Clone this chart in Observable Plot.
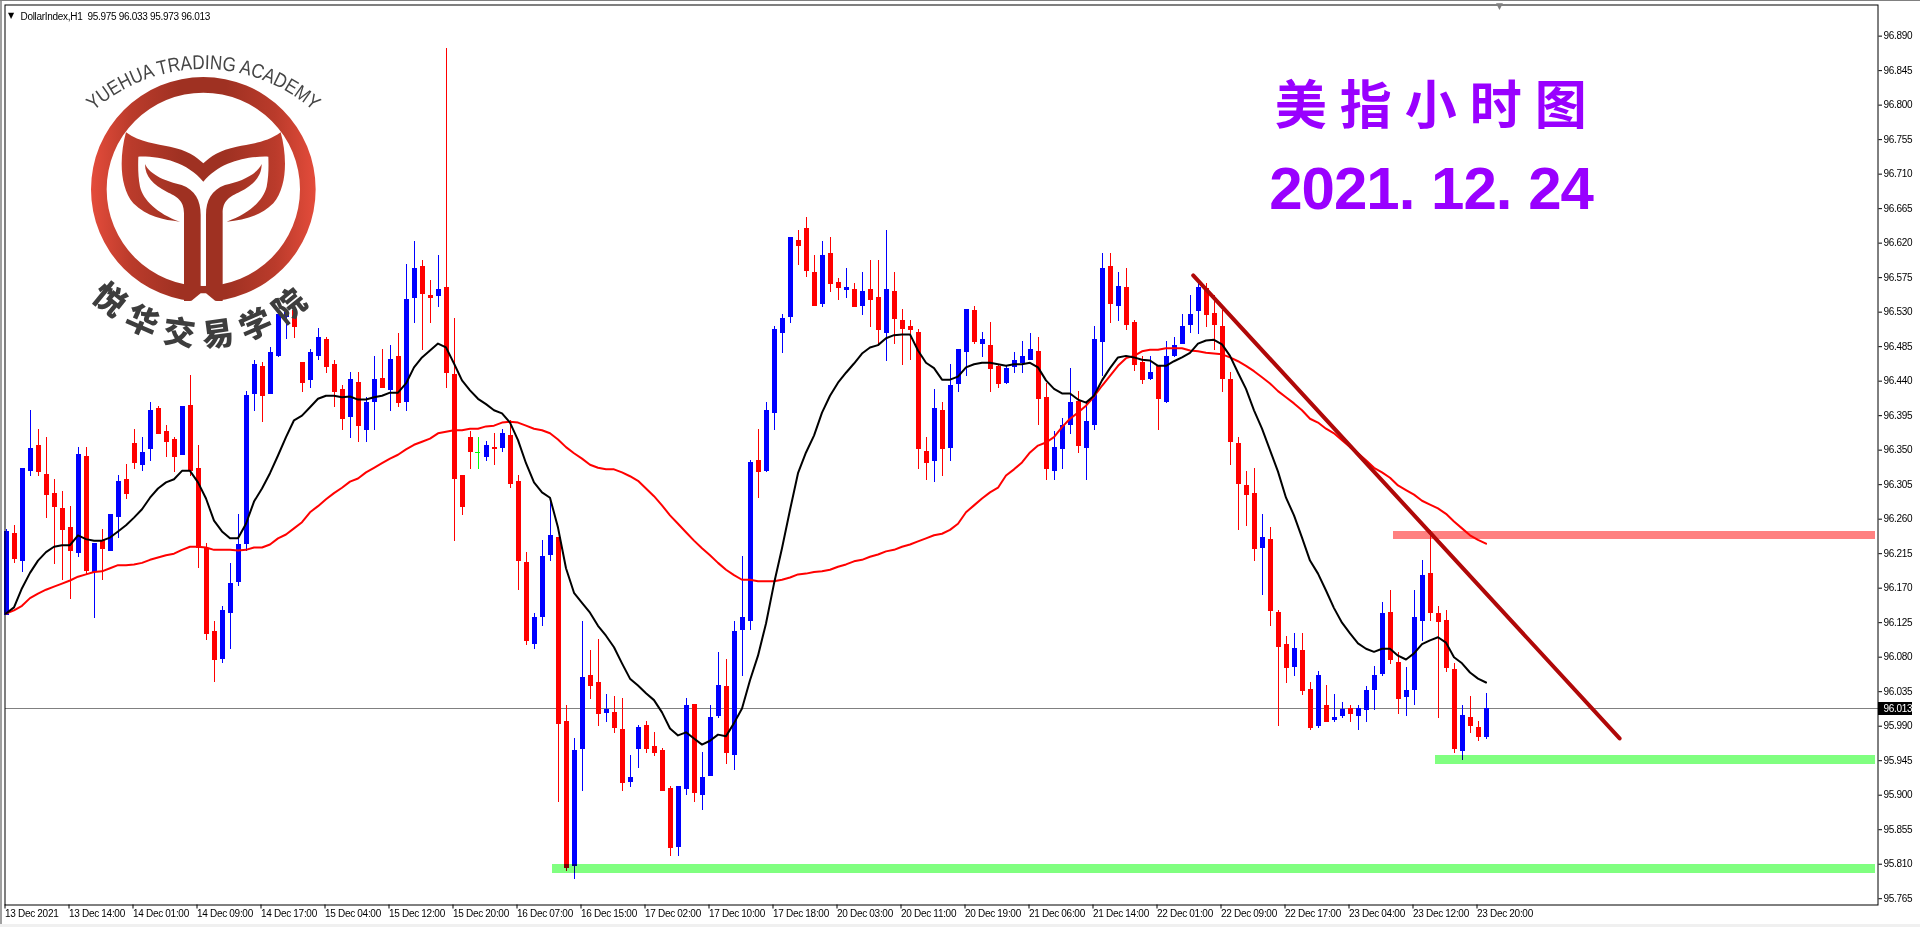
<!DOCTYPE html>
<html lang="zh">
<head>
<meta charset="utf-8">
<title>DollarIndex H1</title>
<script src="https://cdn.jsdelivr.net/npm/d3@7"></script>
<script src="https://cdn.jsdelivr.net/npm/@observablehq/plot@0.6"></script>
<style>
html,body{margin:0;padding:0;background:#fff;overflow:hidden}
#wrap{position:relative;width:1920px;height:927px;overflow:hidden}
#chart svg{display:block}
.chrome{position:absolute}
.crisp{shape-rendering:crispEdges}
.zone{mix-blend-mode:multiply;shape-rendering:crispEdges}
.axl text{letter-spacing:-.3px}
.head1 text{letter-spacing:13px}
.head2 text{letter-spacing:-1px}
#logo{position:absolute;left:0;top:0;pointer-events:none}
</style>
</head>
<body>
<div id="wrap">
<div id="chart"></div>
<div class="chrome" style="left:0;top:0;width:2px;height:927px;background:#a0a0a0"></div>
<div class="chrome" style="left:0;top:0;width:1920px;height:1px;background:#808080"></div>
<div class="chrome" style="left:0;top:924px;width:1920px;height:3px;background:#f0f0f0"></div>
<svg id="logo" width="1920" height="927" xmlns="http://www.w3.org/2000/svg">
  <defs>
    <linearGradient id="ringGrad" gradientUnits="userSpaceOnUse" x1="273" y1="0" x2="947" y2="0">
      <stop offset="0" stop-color="#e44c3b"/>
      <stop offset=".18" stop-color="#ba3b2b"/>
      <stop offset=".4" stop-color="#9f3122"/>
      <stop offset=".6" stop-color="#9f3122"/>
      <stop offset=".82" stop-color="#ba3b2b"/>
      <stop offset="1" stop-color="#e44c3b"/>
    </linearGradient>
    <path id="arcTop" d="M88,116 A165.6,165.6 0 0 1 319,116"/>
    <path id="arcBot" d="M69,267 A154,154 0 0 0 338,267"/>
  </defs>
  <g transform="scale(0.33333)" fill="url(#ringGrad)">
    <path fill-rule="evenodd" d="M273,568 a337,337 0 1,0 674,0 a337,337 0 1,0 -674,0 Z M320,568 a290,290 0 1,0 580,0 a290,290 0 1,0 -580,0 Z"/>
    <path d="M378,397 C420,428 470,432 510,440 C560,450 590,470 610,490 C630,470 660,450 710,440 C750,432 800,428 842,397 C862,470 862,560 820,610 C780,650 730,660 680,665 C750,640 790,600 800,560 C806,530 806,500 805,470 C740,468 660,485 610,545 C560,485 480,468 415,470 C414,500 414,530 420,560 C430,600 470,640 540,665 C490,660 440,650 400,610 C358,560 358,470 378,397 Z"/>
    <path id="stemL" d="M435,492 C450,525 500,545 545,555 C585,570 602,600 602,645 L602,880 L570,903 L552,903 L552,640 C552,600 530,590 500,575 C460,555 435,530 435,492 Z"/>
    <path d="M785,492 C770,525 720,545 675,555 C635,570 618,600 618,645 L618,880 L650,903 L668,903 L668,640 C668,600 690,590 720,575 C760,555 785,530 785,492 Z"/>
    <path fill="#fff" d="M602,880 L570,906 L650,906 L618,880 Z"/>
  </g>
  <text font-family="Liberation Sans" font-size="20" fill="#454545"><textPath href="#arcTop" startOffset="50%" text-anchor="middle" textLength="240" lengthAdjust="spacingAndGlyphs">YUEHUA TRADING ACADEMY</textPath></text>
  <text font-family="Noto Sans CJK SC" font-size="32" font-weight="900" fill="#3d3d3d" letter-spacing="10"><textPath href="#arcBot" startOffset="50%" text-anchor="middle">悦华交易学院</textPath></text>
  <text x="1496" y="9" font-family="DejaVu Sans" font-size="9" fill="#808080">▼</text>
</svg>
</div>
<script>
const open = [
96.134,96.241,96.205,96.322,96.356,96.318,96.294,96.274,96.249,96.215,
96.342,96.191,96.232,96.218,96.262,96.312,96.359,96.330,96.351,96.404,
96.374,96.364,96.343,96.408,96.326,96.222,96.113,96.077,96.137,96.177,
96.227,96.423,96.459,96.423,96.472,96.523,96.532,96.464,96.441,96.472,
96.494,96.462,96.429,96.393,96.438,96.376,96.412,96.443,96.428,96.472,
96.412,96.548,96.590,96.552,96.550,96.562,96.449,96.317,96.367,96.347,
96.340,96.354,96.352,96.369,96.309,96.203,96.097,96.132,96.213,96.236,
95.996,95.807,95.960,96.056,96.047,96.007,96.008,95.986,95.917,95.960,
95.991,95.963,95.958,95.909,95.832,95.908,96.018,95.900,95.924,96.003,
96.042,95.952,96.115,96.127,96.337,96.322,96.398,96.502,96.523,96.623,
96.639,96.582,96.540,96.606,96.569,96.558,96.560,96.537,96.560,96.549,
96.502,96.557,96.519,96.511,96.503,96.348,96.335,96.402,96.352,96.436,
96.477,96.532,96.488,96.487,96.459,96.437,96.458,96.463,96.467,96.479,
96.419,96.322,96.351,96.382,96.413,96.352,96.382,96.490,96.590,96.537,
96.562,96.516,96.464,96.442,96.460,96.412,96.472,96.488,96.513,96.531,
96.561,96.528,96.511,96.442,96.359,96.304,96.294,96.222,96.234,96.138,
96.097,96.067,96.089,96.038,95.990,96.017,95.997,96.003,96.013,96.003,
96.010,96.037,96.057,96.138,96.073,96.027,96.037,96.127,96.189,96.137,
96.128,96.064,95.957,96.001,95.988,95.975];
const close = [
96.244,96.207,96.326,96.352,96.321,96.291,96.275,96.245,96.218,96.344,
96.192,96.228,96.220,96.266,96.309,96.292,96.333,96.347,96.402,96.371,
96.360,96.340,96.407,96.322,96.222,96.110,96.076,96.141,96.176,96.227,
96.421,96.462,96.420,96.477,96.527,96.530,96.510,96.437,96.477,96.497,
96.458,96.425,96.390,96.442,96.381,96.412,96.442,96.430,96.468,96.411,
96.547,96.587,96.553,96.548,96.560,96.450,96.312,96.275,96.347,96.347,
96.356,96.351,96.372,96.305,96.205,96.100,96.132,96.211,96.239,95.992,
95.804,95.958,96.053,96.042,96.005,96.012,95.987,95.915,95.923,95.988,
95.960,95.954,95.905,95.830,95.911,96.017,95.902,95.923,96.001,96.043,
95.954,96.113,96.132,96.334,96.321,96.402,96.507,96.522,96.627,96.616,
96.583,96.537,96.604,96.566,96.561,96.562,96.536,96.557,96.545,96.506,
96.560,96.520,96.507,96.506,96.351,96.333,96.404,96.351,96.434,96.481,
96.533,96.490,96.494,96.455,96.436,96.457,96.467,96.472,96.481,96.416,
96.325,96.354,96.382,96.412,96.355,96.387,96.494,96.587,96.540,96.563,
96.513,96.460,96.441,96.451,96.416,96.472,96.487,96.511,96.527,96.562,
96.526,96.513,96.442,96.360,96.305,96.291,96.220,96.236,96.140,96.093,
96.065,96.091,96.035,95.987,96.056,95.995,96.001,96.012,96.005,96.013,
96.037,96.056,96.137,96.076,96.025,96.037,96.132,96.187,96.137,96.125,
96.065,95.960,96.004,95.990,95.975,96.013];
const high = [
96.246,96.252,96.326,96.402,96.377,96.367,96.312,96.296,96.277,96.354,
96.354,96.228,96.246,96.266,96.317,96.331,96.377,96.367,96.412,96.407,
96.382,96.367,96.407,96.447,96.356,96.228,96.126,96.146,96.202,96.266,
96.427,96.467,96.464,96.484,96.527,96.532,96.539,96.464,96.481,96.509,
96.497,96.467,96.434,96.451,96.451,96.419,96.472,96.481,96.487,96.502,
96.592,96.622,96.597,96.571,96.604,96.874,96.522,96.317,96.374,96.367,
96.361,96.372,96.377,96.389,96.317,96.217,96.137,96.232,96.284,96.236,
96.017,95.974,96.127,96.089,96.103,96.031,96.029,96.026,95.952,95.991,
95.996,95.982,95.961,95.911,95.911,96.026,96.018,95.956,96.017,96.086,
96.077,96.127,96.211,96.337,96.377,96.412,96.511,96.527,96.627,96.636,
96.653,96.604,96.622,96.627,96.574,96.587,96.567,96.582,96.597,96.597,
96.637,96.582,96.533,96.519,96.507,96.367,96.429,96.412,96.462,96.481,
96.533,96.537,96.503,96.516,96.460,96.459,96.477,96.492,96.502,96.497,
96.437,96.374,96.391,96.457,96.427,96.411,96.511,96.607,96.607,96.582,
96.587,96.519,96.472,96.472,96.460,96.492,96.497,96.527,96.552,96.567,
96.567,96.552,96.532,96.451,96.367,96.322,96.326,96.266,96.249,96.141,
96.107,96.111,96.111,96.047,96.061,96.043,96.031,96.021,96.017,96.017,
96.042,96.068,96.151,96.167,96.086,96.067,96.167,96.206,96.245,96.146,
96.141,96.072,96.017,96.029,95.996,96.033];
const low = [
96.134,96.202,96.191,96.316,96.316,96.261,96.201,96.180,96.155,96.210,
96.188,96.130,96.180,96.218,96.235,96.286,96.325,96.322,96.335,96.371,
96.340,96.321,96.343,96.316,96.196,96.102,96.047,96.072,96.090,96.172,
96.218,96.400,96.386,96.423,96.471,96.494,96.496,96.425,96.430,96.467,
96.450,96.406,96.376,96.365,96.360,96.360,96.376,96.430,96.400,96.406,
96.400,96.515,96.480,96.515,96.536,96.430,96.231,96.265,96.325,96.325,
96.335,96.330,96.347,96.300,96.167,96.095,96.090,96.120,96.205,95.890,
95.800,95.790,95.905,96.025,95.990,95.995,95.980,95.905,95.910,95.935,
95.954,95.950,95.905,95.820,95.820,95.900,95.890,95.880,95.924,96.000,
95.940,95.932,96.055,96.115,96.287,96.321,96.376,96.476,96.515,96.591,
96.575,96.537,96.536,96.556,96.545,96.548,96.536,96.526,96.510,96.487,
96.466,96.488,96.460,96.467,96.325,96.310,96.308,96.316,96.335,96.425,
96.446,96.488,96.471,96.425,96.430,96.436,96.450,96.450,96.467,96.382,
96.310,96.310,96.325,96.370,96.346,96.310,96.376,96.446,96.515,96.518,
96.506,96.453,96.436,96.441,96.376,96.411,96.471,96.488,96.502,96.501,
96.510,96.480,96.425,96.330,96.245,96.250,96.205,96.160,96.120,95.990,
96.046,96.055,96.030,95.984,95.987,95.995,95.995,96.000,95.995,95.984,
95.995,96.010,96.055,96.070,96.005,96.003,96.017,96.100,96.127,96.000,
96.060,95.954,95.945,95.980,95.970,95.973];
const fastMA = [
96.137,96.145,96.170,96.190,96.206,96.217,96.224,96.226,96.226,96.239,
96.234,96.232,96.232,96.236,96.244,96.252,96.262,96.273,96.288,96.300,
96.308,96.312,96.323,96.323,96.308,96.287,96.258,96.244,96.235,96.235,
96.254,96.283,96.300,96.320,96.343,96.367,96.389,96.395,96.406,96.417,
96.421,96.421,96.419,96.420,96.416,96.416,96.419,96.421,96.425,96.425,
96.437,96.458,96.471,96.480,96.489,96.484,96.463,96.441,96.428,96.417,
96.410,96.402,96.398,96.386,96.363,96.333,96.308,96.295,96.288,96.249,
96.196,96.164,96.151,96.138,96.121,96.108,96.093,96.072,96.052,96.043,
96.033,96.024,96.008,95.987,95.978,95.982,95.974,95.966,95.971,95.979,
95.977,95.994,96.013,96.050,96.082,96.124,96.176,96.222,96.272,96.320,
96.347,96.369,96.399,96.421,96.438,96.451,96.463,96.476,96.484,96.487,
96.496,96.500,96.501,96.501,96.480,96.464,96.457,96.442,96.442,96.446,
96.458,96.462,96.464,96.464,96.462,96.460,96.462,96.462,96.464,96.458,
96.441,96.430,96.424,96.424,96.416,96.412,96.421,96.441,96.457,96.471,
96.473,96.471,96.468,96.467,96.460,96.460,96.466,96.471,96.477,96.489,
96.493,96.494,96.488,96.473,96.451,96.430,96.402,96.378,96.350,96.322,
96.288,96.265,96.236,96.206,96.189,96.167,96.144,96.125,96.111,96.098,
96.091,96.087,96.091,96.091,96.082,96.077,96.085,96.097,96.102,96.106,
96.099,96.080,96.072,96.060,96.052,96.047];
const slowMA = [
96.137,96.141,96.147,96.157,96.163,96.168,96.172,96.176,96.180,96.185,
96.188,96.191,96.192,96.196,96.200,96.200,96.201,96.203,96.207,96.210,
96.213,96.215,96.220,96.224,96.224,96.223,96.220,96.220,96.220,96.219,
96.220,96.223,96.223,96.227,96.235,96.240,96.248,96.256,96.269,96.277,
96.286,96.294,96.301,96.309,96.313,96.321,96.327,96.333,96.339,96.344,
96.351,96.357,96.361,96.365,96.372,96.374,96.376,96.376,96.378,96.378,
96.381,96.382,96.386,96.387,96.386,96.382,96.378,96.376,96.372,96.364,
96.354,96.346,96.339,96.331,96.327,96.325,96.325,96.321,96.316,96.310,
96.300,96.290,96.278,96.265,96.254,96.243,96.232,96.222,96.213,96.203,
96.194,96.187,96.181,96.181,96.179,96.179,96.179,96.181,96.184,96.188,
96.189,96.191,96.192,96.194,96.198,96.201,96.205,96.207,96.211,96.214,
96.218,96.220,96.224,96.227,96.231,96.235,96.239,96.241,96.246,96.254,
96.269,96.278,96.287,96.295,96.301,96.317,96.325,96.334,96.347,96.356,
96.360,96.367,96.380,96.391,96.399,96.408,96.420,96.434,96.447,96.460,
96.470,96.473,96.479,96.481,96.481,96.483,96.483,96.483,96.480,96.479,
96.477,96.476,96.475,96.471,96.466,96.460,96.453,96.445,96.437,96.427,
96.419,96.411,96.402,96.391,96.386,96.378,96.372,96.363,96.354,96.346,
96.337,96.327,96.321,96.314,96.304,96.298,96.292,96.284,96.279,96.274,
96.267,96.257,96.248,96.239,96.233,96.228];

const priceTicks = [96.890,96.845,96.800,96.755,96.710,96.665,96.620,96.575,96.530,96.485,96.440,96.395,96.350,96.305,96.260,96.215,96.170,96.125,96.080,96.035,95.990,95.945,95.900,95.855,95.810,95.765];
const timeLabels = ["13 Dec 2021","13 Dec 14:00","14 Dec 01:00","14 Dec 09:00","14 Dec 17:00","15 Dec 04:00","15 Dec 12:00","15 Dec 20:00","16 Dec 07:00","16 Dec 15:00","17 Dec 02:00","17 Dec 10:00","17 Dec 18:00","20 Dec 03:00","20 Dec 11:00","20 Dec 19:00","21 Dec 06:00","21 Dec 14:00","22 Dec 01:00","22 Dec 09:00","22 Dec 17:00","23 Dec 04:00","23 Dec 12:00","23 Dec 20:00"];
const lastPrice = 96.013;
const trendLine = [{bar:148.4,price:96.578},{bar:201.7,price:95.974}];
const resistance = [{from:173.4,to:233.7,top:96.244,bottom:96.233}];
const supports = [{from:178.7,to:233.7,top:95.952,bottom:95.940},{from:68.3,to:233.7,top:95.810,bottom:95.798}];

const bars = open.map((o,i)=>({i,o,c:close[i],h:high[i],l:low[i],ma1:fastMA[i],ma2:slowMA[i]}));
const candleColor = d => d.c>d.o ? "#0000ff" : d.c<d.o ? "#ff0000" : "#00ff00";
const doji = bars.filter(d=>d.c===d.o);
const FONT = "Liberation Sans, Arial, sans-serif";

const plot = Plot.plot({
  width:1920, height:927,
  marginLeft:4.5, marginRight:42.5, marginTop:4.5, marginBottom:22.5,
  style:{fontFamily:FONT,fontSize:"10px",background:"transparent",color:"#000"},
  x:{type:"linear",domain:[0,185],range:[5.5,1485.5]},
  y:{type:"linear",domain:[95.7568,96.9306]},
  marks:[
    Plot.ruleY([lastPrice],{stroke:"#808080",strokeWidth:1,className:"crisp"}),
    Plot.ruleX(bars,{x:"i",y1:"l",y2:"h",stroke:candleColor,strokeWidth:1,className:"crisp"}),
    Plot.ruleX(bars.filter(d=>d.c!==d.o),{x:"i",y1:"o",y2:"c",stroke:candleColor,strokeWidth:5,className:"crisp"}),
    Plot.ruleY(doji,{y:"c",x1:d=>d.i-0.3,x2:d=>d.i+0.3,stroke:candleColor,strokeWidth:1,className:"crisp"}),
    Plot.line(bars,{x:"i",y:"ma2",stroke:"#ff0000",strokeWidth:2}),
    Plot.line(bars,{x:"i",y:"ma1",stroke:"#000000",strokeWidth:2}),
    Plot.rect(resistance,{x1:"from",x2:"to",y1:"bottom",y2:"top",fill:"#ff8080",className:"zone"}),
    Plot.rect(supports,{x1:"from",x2:"to",y1:"bottom",y2:"top",fill:"#80ff80",className:"zone"}),
    Plot.line(trendLine,{x:"bar",y:"price",stroke:"#b00808",strokeWidth:4}),
    Plot.frame({stroke:"#000",strokeWidth:1}),
    Plot.axisY({anchor:"right",ticks:priceTicks,tickFormat:".3f",tickSize:3.5,tickPadding:2,label:null,className:"axl",textAnchor:"start"}),
    Plot.axisX({anchor:"bottom",ticks:timeLabels.map((_,k)=>k*8),tickFormat:d=>timeLabels[d/8],tickSize:4,tickPadding:1,label:null,textAnchor:"start",className:"axl",dx:-1}),
    Plot.rect([lastPrice],{x1:234.05,x2:238.3,y1:96.004,y2:96.021,fill:"#000",className:"crisp"}),
    Plot.text([lastPrice],{x:234.7,y:d=>d,text:()=>"96.013",fill:"#fff",textAnchor:"start",className:"axl"}),
    Plot.text(["▼"],{frameAnchor:"top-left",dx:3,dy:7,fill:"#000",fontSize:8,fontFamily:"DejaVu Sans"}),
    Plot.text(["DollarIndex,H1  95.975 96.033 95.973 96.013"],{frameAnchor:"top-left",dx:15.5,dy:8,fill:"#000",fontSize:10,className:"axl"}),
    Plot.text(["美指小时图"],{x:178.9,y:96.797,fill:"#9900ff",fontSize:52,fontWeight:700,fontFamily:"Noto Sans CJK SC",className:"head1"}),
    Plot.text(["2021.12.24"],{x:157.9,y:96.690,fill:"#9900ff",fontSize:60,fontWeight:700,fontFamily:FONT,textAnchor:"start",className:"head2"})
  ]
});
document.getElementById("chart").appendChild(plot);
// wide dots of the date caption: spacing only, the string stays intact
plot.querySelectorAll(".head2 text").forEach(t=>t.setAttribute("dx","0 0 0 0 0 16.7 0 0 16.7 0 0"));
</script>
</body>
</html>
